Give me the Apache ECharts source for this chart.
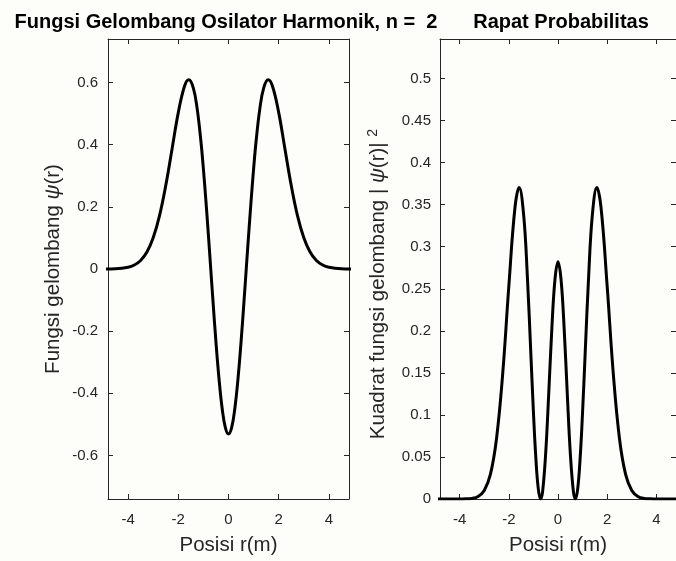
<!DOCTYPE html>
<html lang="en">
<head>
    <meta charset="UTF-8">
    <title>Osilator Harmonik n = 2</title>
</head>
<style type="text/css">
    body{
        margin:0;
        background:#fdfdf9;
    }
    .osc-chart{
        width: 676px;
        height: 561px;
    }
</style>
<body>
    <div class="osc-chart"></div>
</body>
<script type="text/javascript" src="https://cdn.jsdelivr.net/npm/echarts@6/dist/echarts.min.js"></script>
<script type="text/javascript">
// posisi r (m)
var posisi = [-5, -4.5, -4, -3.75, -3.5, -3.25, -3, -2.75, -2.5, -2.25, -2, -1.75, -1.58, -1.4, -1.25, -1.1, -1, -0.9, -0.8, -0.707, -0.625, -0.5, -0.375, -0.25, -0.125,
    0, 0.125, 0.25, 0.375, 0.5, 0.625, 0.707, 0.8, 0.9, 1, 1.1, 1.25, 1.4, 1.58, 1.75, 2, 2.25, 2.5, 2.75, 3, 3.25, 3.5, 3.75, 4, 4.5, 5];
// fungsi gelombang psi(r)
var psi = [0.0001, 0.0008, 0.0055, 0.0127, 0.0273, 0.0544, 0.1003, 0.1710, 0.2684, 0.3856, 0.5031, 0.5887, 0.6087, 0.5820, 0.5167, 0.4118, 0.3221, 0.2196, 0.1080, 0, -0.0956, -0.2344, -0.3558, -0.4504, -0.5105,
    -0.5311, -0.5105, -0.4504, -0.3558, -0.2344, -0.0956, 0, 0.1080, 0.2196, 0.3221, 0.4118, 0.5167, 0.5820, 0.6087, 0.5887, 0.5031, 0.3856, 0.2684, 0.1710, 0.1003, 0.0544, 0.0273, 0.0127, 0.0055, 0.0008, 0.0001];
// rapat probabilitas |psi(r)|^2
var rapat = [0, 0, 0, 0.0002, 0.0007, 0.0030, 0.0101, 0.0292, 0.0720, 0.1487, 0.2531, 0.3466, 0.3705, 0.3388, 0.2670, 0.1696, 0.1037, 0.0482, 0.0117, 0, 0.0091, 0.0549, 0.1266, 0.2029, 0.2606,
    0.2821, 0.2606, 0.2029, 0.1266, 0.0549, 0.0091, 0, 0.0117, 0.0482, 0.1037, 0.1696, 0.2670, 0.3388, 0.3705, 0.3466, 0.2531, 0.1487, 0.0720, 0.0292, 0.0101, 0.0030, 0.0007, 0.0002, 0, 0, 0];

var xTicks = [-4, -2, 0, 2, 4];
var yTicksKiri = [-0.6, -0.4, -0.2, 0, 0.2, 0.4, 0.6];
var yTicksKanan = [0, 0.05, 0.1, 0.15, 0.2, 0.25, 0.3, 0.35, 0.4, 0.45, 0.5];

var fontName = '"Liberation Sans", Arial, sans-serif';
var axisColor = '#262626';

function pairs(ys) {
    return posisi.map(function(x, i) {
        return [x, ys[i]];
    });
}

function makeAxis(opt) {
    var ax = {
        type: 'value',
        gridIndex: opt.grid,
        position: opt.position,
        min: opt.min,
        max: opt.max,
        axisLine: { show: true, onZero: false, lineStyle: { color: axisColor, width: 1 } },
        axisTick: { show: true, inside: true, length: 5, customValues: opt.ticks, lineStyle: { color: axisColor } },
        axisLabel: { show: !!opt.labels, customValues: opt.ticks, color: axisColor, fontFamily: fontName, fontSize: 15, margin: opt.margin || 10 },
        splitLine: { show: false }
    };
    if (opt.name) {
        ax.name = opt.name;
        ax.nameLocation = 'middle';
        ax.nameGap = opt.nameGap;
        ax.nameTextStyle = {
            color: axisColor, fontFamily: fontName, fontSize: 20.5,
            padding: opt.namePad || 0,
            rich: {
                i: { fontFamily: fontName, fontStyle: 'italic', fontSize: 20.5, color: axisColor },
                sup: { fontFamily: fontName, fontSize: 14, color: axisColor, verticalAlign: 'top', padding: [0, 0, 10, 0] }
            }
        };
    }
    return ax;
}

var option = {
    backgroundColor: '#fdfdf9',
    animation: false,
    grid: [
        { left: 108, top: 39, width: 241, height: 462 },
        { left: 440, top: 39, width: 243, height: 462 }
    ],
    xAxis: [
        makeAxis({ grid: 0, position: 'bottom', min: -4.8, max: 4.8, ticks: xTicks, labels: true, margin: 13, name: 'Posisi r(m)', nameGap: 36 }),
        makeAxis({ grid: 0, position: 'top', min: -4.8, max: 4.8, ticks: xTicks }),
        makeAxis({ grid: 1, position: 'bottom', min: -4.8, max: 4.8, ticks: xTicks, labels: true, margin: 13, name: 'Posisi r(m)', nameGap: 36 }),
        makeAxis({ grid: 1, position: 'top', min: -4.8, max: 4.8, ticks: xTicks })
    ],
    yAxis: [
        makeAxis({ grid: 0, position: 'left', min: -0.74, max: 0.74, ticks: yTicksKiri, labels: true, margin: 10, name: 'Fungsi gelombang {i|ψ}(r)', nameGap: 44 }),
        makeAxis({ grid: 0, position: 'right', min: -0.74, max: 0.74, ticks: yTicksKiri }),
        makeAxis({ grid: 1, position: 'left', min: 0, max: 0.547, ticks: yTicksKanan, labels: true, margin: 9, name: 'Kuadrat fungsi gelombang | {i|ψ}(r)| {sup|2}', nameGap: 50, namePad: [0, 30, 0, 0] }),
        makeAxis({ grid: 1, position: 'right', min: 0, max: 0.547, ticks: yTicksKanan })
    ],
    graphic: [
        { type: 'text', x: 226, y: 22, style: { text: 'Fungsi Gelombang Osilator Harmonik, n =  2', fill: '#000', font: 'bold 20px ' + fontName, textAlign: 'center', textVerticalAlign: 'middle' } },
        { type: 'text', x: 561, y: 22, style: { text: 'Rapat Probabilitas', fill: '#000', font: 'bold 20px ' + fontName, textAlign: 'center', textVerticalAlign: 'middle' } }
    ],
    series: [
        {
            type: 'line', xAxisIndex: 0, yAxisIndex: 0, data: pairs(psi),
            showSymbol: false, smooth: 0.4, lineStyle: { color: '#000', width: 3 }
        },
        {
            type: 'line', xAxisIndex: 2, yAxisIndex: 2, data: pairs(rapat),
            showSymbol: false, smooth: 0.4, lineStyle: { color: '#000', width: 3 }
        }
    ]
};
var myChart = echarts.init(document.querySelector(".osc-chart"));
myChart.setOption(option);
</script>
</html>
